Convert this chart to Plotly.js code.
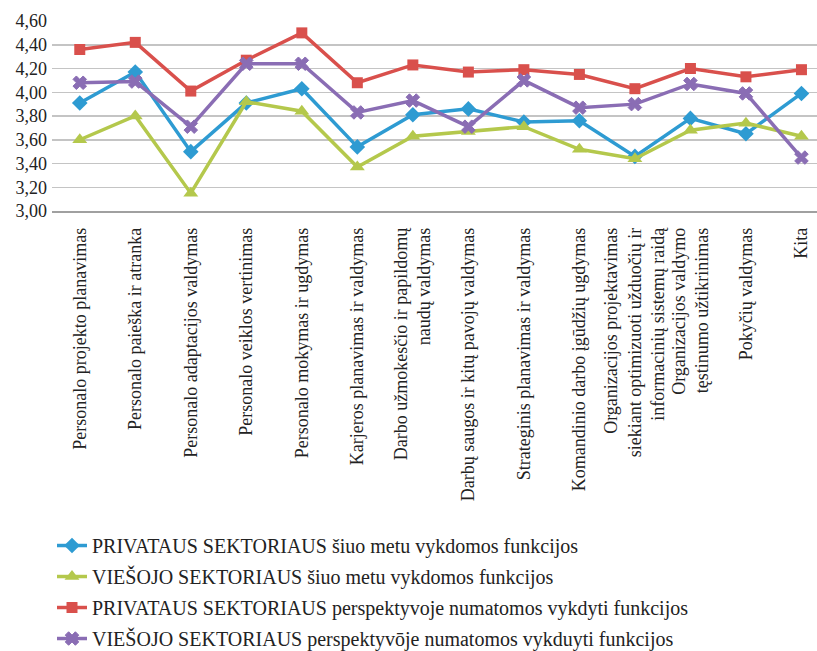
<!DOCTYPE html>
<html>
<head>
<meta charset="utf-8">
<script src="https://cdn.plot.ly/plotly-3.0.1.min.js"></script>
<style>html,body{margin:0;padding:0;background:#fff;}#chart{width:817px;height:651px;}</style>
</head>
<body>
<div id="chart"></div>
<script>
const categories = [
  "Personalo projekto planavimas",
  "Personalo paieška ir atranka",
  "Personalo adaptacijos valdymas",
  "Personalo veiklos vertinimas",
  "Personalo mokymas ir ugdymas",
  "Karjeros planavimas ir valdymas",
  "Darbo užmokesčio ir papildomų<br>naudų valdymas",
  "Darbų saugos ir kitų pavojų valdymas",
  "Strateginis planavimas ir valdymas",
  "Komandinio darbo įgūdžių ugdymas",
  "Organizacijos projektavimas<br>siekiant optimizuoti užduočių ir<br>informacinių sistemų raidą",
  "Organizacijos valdymo<br>tęstinumo užtikrinimas",
  "Pokyčių valdymas",
  "Kita"
];
const seriesNames = [
  "PRIVATAUS SEKTORIAUS šiuo metu vykdomos funkcijos",
  "VIEŠOJO SEKTORIAUS šiuo metu vykdomos funkcijos",
  "PRIVATAUS SEKTORIAUS perspektyvoje numatomos vykdyti funkcijos",
  "VIEŠOJO SEKTORIAUS perspektyvōje numatomos vykduyti funkcijos"
];
const privateCurrent = [3.91, 4.17, 3.50, 3.91, 4.03, 3.54, 3.81, 3.86, 3.75, 3.76, 3.46, 3.78, 3.65, 3.99];
const publicCurrent  = [3.60, 3.80, 3.15, 3.92, 3.84, 3.37, 3.63, 3.67, 3.71, 3.52, 3.44, 3.68, 3.74, 3.63];
const privateFuture  = [4.36, 4.42, 4.01, 4.27, 4.50, 4.08, 4.23, 4.17, 4.19, 4.15, 4.03, 4.20, 4.13, 4.19];
const publicFuture   = [4.08, 4.09, 3.71, 4.24, 4.24, 3.83, 3.93, 3.71, 4.10, 3.87, 3.90, 4.07, 3.99, 3.45];
const yTicks = [3.0, 3.2, 3.4, 3.6, 3.8, 4.0, 4.2, 4.4, 4.6];

const styles = [
  {color: "#2e9bd2", symbol: "diamond", size: 12},
  {color: "#b4c84c", symbol: "triangle-up", size: 13},
  {color: "#d9504c", symbol: "square", size: 11},
  {color: "#8a6db4", symbol: "x", size: 12}
];
const values = [privateCurrent, publicCurrent, privateFuture, publicFuture];

const traces = values.map((v, i) => ({
  type: "scatter",
  mode: "lines+markers",
  x: categories,
  y: v,
  name: seriesNames[i],
  legendgroup: "g" + i,
  line: {color: styles[i].color, width: 3.5},
  marker: {color: styles[i].color, symbol: styles[i].symbol, size: styles[i].size,
           line: {color: styles[i].color, width: styles[i].symbol === "x" ? 1 : 0}},
  hoverinfo: "x+y"
}));

const font = "Liberation Serif";
const layout = {
  width: 817, height: 651,
  margin: {l: 52, r: 0, t: 21, b: 440, autoexpand: false},
  paper_bgcolor: "#fff", plot_bgcolor: "#fff",
  separators: ", ",
  font: {family: font, size: 18, color: "#222"},
  showlegend: true,
  legend: {
    orientation: "v", x: 0.0, xanchor: "left", y: -1.658, yanchor: "top",
    font: {family: font, size: 20, color: "#222"},
    traceorder: "grouped", tracegroupgap: 2,
    itemwidth: 30
  },
  xaxis: {
    type: "category",
    range: [-0.5, 13.28],
    tickangle: -90,
    showgrid: false,
    showline: true, linecolor: "#a0a0a0", linewidth: 1.5,
    ticks: "", ticklen: 0,
    ticklabelstandoff: 8,
    tickfont: {family: font, size: 18, color: "#222"},
    automargin: false
  },
  yaxis: {
    range: [3.0, 4.6],
    tickvals: yTicks,
    tickformat: ".2f",
    showgrid: true, gridcolor: "#c4c4c4", gridwidth: 1.5,
    zeroline: false, showline: false, ticks: "",
    ticklabelstandoff: 4,
    tickfont: {family: font, size: 18, color: "#222"},
    automargin: false
  }
};

Plotly.newPlot("chart", traces, layout, {displayModeBar: false, staticPlot: true});
</script>
</body>
</html>
